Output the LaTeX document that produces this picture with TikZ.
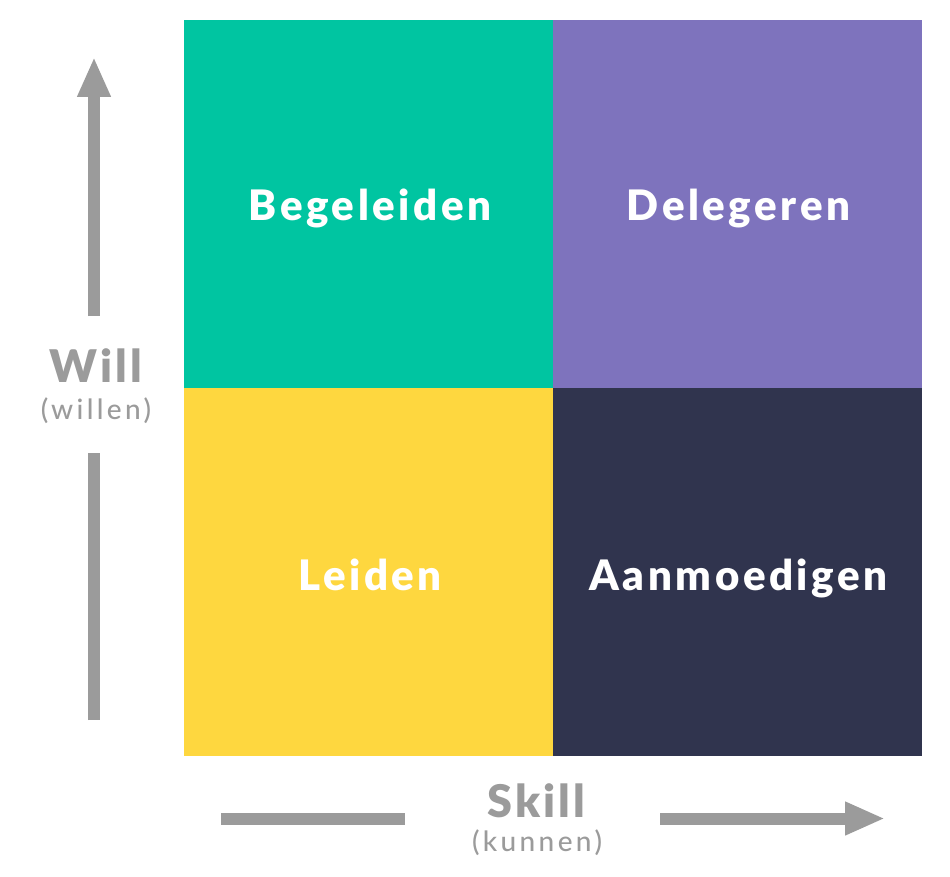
\documentclass[tikz,border=0pt]{standalone}
\usepackage{fontspec}
\setmainfont{Lato}
\newfontfamily\latoheavy{Lato Black}
\newfontfamily\latomedium{Lato Medium}
\usetikzlibrary{arrows.meta}
\definecolor{tealq}{HTML}{00C5A1}
\definecolor{purpleq}{HTML}{7E73BD}
\definecolor{yellowq}{HTML}{FED73F}
\definecolor{navyq}{HTML}{30344E}
\definecolor{axisgray}{HTML}{9B9B9B}
\tikzset{
  quad/.style={minimum width=369pt, minimum height=368pt, inner sep=0pt, outer sep=0pt},
  quadlabel/.style={anchor=base, text=white, font=\fontsize{42}{42}\selectfont\latoheavy\addfontfeature{LetterSpace=8.5}},
  axistitle/.style={anchor=base, text=axisgray, font=\fontsize{45}{45}\selectfont\latoheavy\addfontfeature{LetterSpace=7}},
  axissub/.style={anchor=base, text=axisgray, font=\fontsize{28}{28}\selectfont\latomedium\addfontfeature{LetterSpace=12}},
  axisline/.style={draw=axisgray, line width=12pt},
  axisarrow/.style={axisline, -{Triangle[width=31pt,length=40pt]}}
}
\begin{document}
\begin{tikzpicture}[x=1pt, y=-1pt]
    \useasboundingbox (0,0) rectangle (950,877);
    % quadrants
    \node[quad, fill=tealq] (begeleiden) at (368.5,204) {};
    \node[quad, fill=purpleq] (delegeren) at (737,204) {};
    \node[quad, fill=yellowq] (leiden) at (368.5,572) {};
    \node[quad, fill=navyq] (aanmoedigen) at (737,572) {};
    \node[quadlabel] at (370,221) {Begeleiden};
    \node[quadlabel] at (738.5,221) {Delegeren};
    \node[quadlabel] at (370,590) {Leiden};
    \node[quadlabel] at (738.5,590) {Aanmoedigen};
    % will axis
    \node[axistitle] (will) at (95.5,382) {Will};
    \node[axissub] (willen) at (96,419) {(willen)};
    \coordinate (willlow) at (94,720);
    \coordinate (willgap) at (94,453);
    \coordinate (willtop) at (94,316);
    \coordinate (willtip) at (94,57);
    \draw[axisline] (willlow) -- (willgap);
    \draw[axisarrow] (willtop) -- (willtip);
    % skill axis
    \node[axistitle] (skill) at (536.5,817) {Skill};
    \node[axissub] (kunnen) at (537,851) {(kunnen)};
    \coordinate (skillleft) at (221,818.5);
    \coordinate (skillgap) at (405,818.5);
    \coordinate (skillstart) at (660,818.5);
    \coordinate (skilltip) at (885,818.5);
    \draw[axisline] (skillleft) -- (skillgap);
    \draw[axisarrow] (skillstart) -- (skilltip);
\end{tikzpicture}
\end{document}
